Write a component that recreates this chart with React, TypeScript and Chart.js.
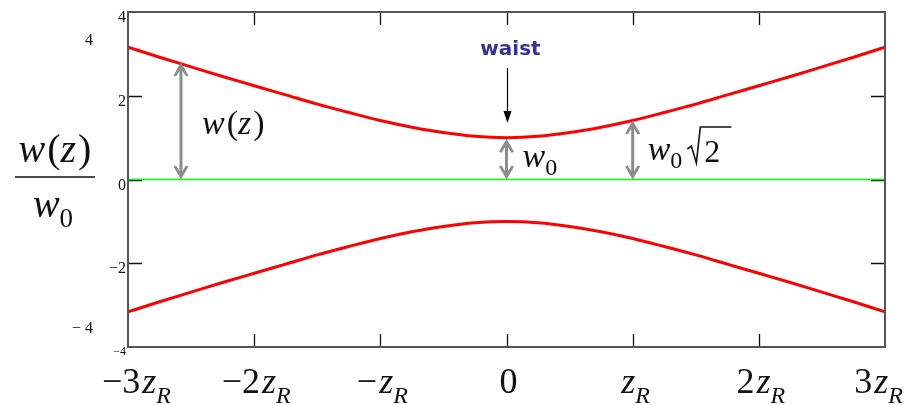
import React, { useEffect, useRef } from "react";
import { Chart, registerables } from "chart.js";

Chart.register(...registerables);

// ---- data ----
const zPositions = [-3, -2.75, -2.5, -2.25, -2, -1.75, -1.5, -1.25, -1, -0.75, -0.5, -0.25, 0, 0.25, 0.5, 0.75, 1, 1.25, 1.5, 1.75, 2, 2.25, 2.5, 2.75, 3];
const upperWidth = [3.16, 2.92, 2.69, 2.46, 2.24, 2.02, 1.8, 1.6, 1.41, 1.25, 1.12, 1.03, 1.0, 1.03, 1.12, 1.25, 1.41, 1.6, 1.8, 2.02, 2.24, 2.46, 2.69, 2.92, 3.16];
const lowerWidth = [-3.16, -2.92, -2.69, -2.46, -2.24, -2.02, -1.8, -1.6, -1.41, -1.25, -1.12, -1.03, -1.0, -1.03, -1.12, -1.25, -1.41, -1.6, -1.8, -2.02, -2.24, -2.46, -2.69, -2.92, -3.16];
const axisLineZ = [-3, 3];
const axisLineY = [0, 0];

const xTickValues = [-3, -2, -1, 0, 1, 2, 3];
const xTickPrefix = ["\u22123", "\u22122", "\u2212", "0", "", "2", "3"];
const xTickHasZR = [true, true, true, false, true, true, true];
const xInnerTicks = [-2, -1, 0, 1, 2];

const yTickValues = [4, 2, 0, -2, -4];
const yTickLabels = ["4", "2", "0", "\u22122", "\u22124"];
const yInnerTicks = [2, 0, -2];

// annotation values
const wzArrowZ = -2.58;
const wzArrowTop = 2.77;
const waistZ = 0;
const waistTop = 1.0;
const rayleighZ = 1;
const rayleighTop = 1.41;

const SERIF = '"Liberation Serif", "Times New Roman", serif';
const SANS = '"DejaVu Sans", "Liberation Sans", sans-serif';

type Piece = { t: string; font: string; dy?: number; dx?: number };

function measureRich(ctx: CanvasRenderingContext2D, pieces: Piece[]) {
  return pieces.map((p) => {
    ctx.font = p.font;
    return ctx.measureText(p.t).width + (p.dx || 0);
  });
}

function drawRich(
  ctx: CanvasRenderingContext2D,
  pieces: Piece[],
  x: number,
  y: number,
  align: "left" | "center" | "right",
  minX = -Infinity,
  maxX = Infinity
) {
  const widths = measureRich(ctx, pieces);
  const total = widths.reduce((a, b) => a + b, 0);
  let cx = align === "center" ? x - total / 2 : align === "right" ? x - total : x;
  if (cx < minX) cx = minX;
  if (cx + total > maxX) cx = maxX - total;
  ctx.textAlign = "left";
  ctx.textBaseline = "alphabetic";
  pieces.forEach((p, i) => {
    ctx.font = p.font;
    ctx.fillText(p.t, cx + (p.dx || 0), y + (p.dy || 0));
    cx += widths[i];
  });
  return total;
}

function doubleArrow(ctx: CanvasRenderingContext2D, x: number, yTop: number, yBot: number) {
  ctx.save();
  ctx.strokeStyle = "#8c8c8c";
  ctx.fillStyle = "#8c8c8c";
  ctx.lineWidth = 3;
  ctx.beginPath();
  ctx.moveTo(x, yTop + 6);
  ctx.lineTo(x, yBot - 6);
  ctx.stroke();
  const head = (tipY: number, dir: number) => {
    ctx.beginPath();
    ctx.moveTo(x, tipY);
    ctx.lineTo(x - 7.5, tipY + dir * 13);
    ctx.lineTo(x - 5, tipY + dir * 14);
    ctx.lineTo(x, tipY + dir * 6);
    ctx.lineTo(x + 5, tipY + dir * 14);
    ctx.lineTo(x + 7.5, tipY + dir * 13);
    ctx.closePath();
    ctx.fill();
  };
  head(yTop, 1);
  head(yBot, -1);
  ctx.restore();
}

const framePlugin = {
  id: "framePlugin",
  beforeDatasetsDraw(chart: any) {
    const { ctx, chartArea: a, scales } = chart;
    const xs = scales.x;
    const ys = scales.y;
    ctx.save();
    ctx.strokeStyle = "#111";
    ctx.lineWidth = 1.3;
    ctx.beginPath();
    xInnerTicks.forEach((v) => {
      const px = Math.round(xs.getPixelForValue(v)) + 0.5;
      ctx.moveTo(px, a.top);
      ctx.lineTo(px, a.top + 13);
      ctx.moveTo(px, a.bottom);
      ctx.lineTo(px, a.bottom - 13);
    });
    yInnerTicks.forEach((v) => {
      const py = Math.round(ys.getPixelForValue(v)) + 0.5;
      ctx.moveTo(a.left, py);
      ctx.lineTo(a.left + 14, py);
      ctx.moveTo(a.right, py);
      ctx.lineTo(a.right - 14, py);
    });
    ctx.stroke();
    ctx.restore();
  },
  afterDatasetsDraw(chart: any) {
    const { ctx, chartArea: a, scales } = chart;
    const xs = scales.x;
    const ys = scales.y;
    ctx.save();
    // frame
    ctx.strokeStyle = "#555";
    ctx.lineWidth = 2;
    ctx.strokeRect(a.left, a.top, a.right - a.left, a.bottom - a.top);

    ctx.fillStyle = "#111";
    // y tick labels
    yTickValues.forEach((v, i) => {
      const py = ys.getPixelForValue(v);
      const small = i === yTickValues.length - 1;
      ctx.font = (small ? "12px " : "16px ") + SERIF;
      ctx.textAlign = "right";
      ctx.textBaseline = "alphabetic";
      ctx.fillText(yTickLabels[i], a.left - 2, py + (small ? 8 : 10));
    });
    // axis limit labels
    ctx.font = "16px " + SERIF;
    ctx.textAlign = "right";
    ctx.fillText("4", 93, 45);
    ctx.fillText("\u2212 4", 93, 333);

    // x tick labels
    xTickValues.forEach((v, i) => {
      const px = xs.getPixelForValue(v);
      const pieces: Piece[] = [];
      if (xTickPrefix[i]) pieces.push({ t: xTickPrefix[i], font: "36px " + SERIF });
      if (xTickHasZR[i]) {
        pieces.push({ t: "z", font: "italic 36px " + SERIF, dx: 2 });
        pieces.push({ t: "R", font: "italic 24px " + SERIF, dy: 10 });
      }
      drawRich(ctx, pieces, px + 2, 393, "center", 102, 903);
    });

    // y axis title: w(z) / w0
    drawRich(
      ctx,
      [
        { t: "w", font: "italic 40px " + SERIF },
        { t: "(", font: "40px " + SERIF, dx: 2 },
        { t: "z", font: "italic 40px " + SERIF },
        { t: ")", font: "40px " + SERIF, dx: 2 },
      ],
      55,
      162,
      "center"
    );
    ctx.strokeStyle = "#111";
    ctx.lineWidth = 1.5;
    ctx.beginPath();
    ctx.moveTo(15, 177);
    ctx.lineTo(95, 177);
    ctx.stroke();
    drawRich(
      ctx,
      [
        { t: "w", font: "italic 40px " + SERIF },
        { t: "0", font: "27px " + SERIF, dy: 10 },
      ],
      53,
      217,
      "center"
    );

    // annotations
    const y0 = ys.getPixelForValue(0);
    const ax1 = xs.getPixelForValue(wzArrowZ);
    doubleArrow(ctx, ax1, ys.getPixelForValue(wzArrowTop) - 1, y0);
    const ax2 = xs.getPixelForValue(waistZ);
    doubleArrow(ctx, ax2, ys.getPixelForValue(waistTop) + 1, y0);
    const ax3 = xs.getPixelForValue(rayleighZ);
    doubleArrow(ctx, ax3, ys.getPixelForValue(rayleighTop), y0);

    ctx.fillStyle = "#111";
    drawRich(
      ctx,
      [
        { t: "w", font: "italic 34px " + SERIF },
        { t: "(", font: "34px " + SERIF, dx: 2 },
        { t: "z", font: "italic 34px " + SERIF },
        { t: ")", font: "34px " + SERIF, dx: 2 },
      ],
      ax1 + 21,
      134,
      "left"
    );
    drawRich(
      ctx,
      [
        { t: "w", font: "italic 34px " + SERIF },
        { t: "0", font: "24px " + SERIF, dy: 8 },
      ],
      ax2 + 16,
      167,
      "left"
    );
    const wEnd = drawRich(
      ctx,
      [
        { t: "w", font: "italic 34px " + SERIF },
        { t: "0", font: "24px " + SERIF, dy: 8 },
      ],
      ax3 + 15,
      160,
      "left"
    );
    const rx = ax3 + 15 + wEnd + 5;
    ctx.strokeStyle = "#111";
    ctx.lineWidth = 1.6;
    ctx.beginPath();
    ctx.moveTo(rx, 149);
    ctx.lineTo(rx + 4, 146);
    ctx.lineTo(rx + 9, 163);
    ctx.lineTo(rx + 13, 127);
    ctx.lineTo(rx + 44, 127);
    ctx.stroke();
    ctx.font = "32px " + SERIF;
    ctx.textAlign = "left";
    ctx.fillText("2", rx + 17, 162);

    // waist label and arrow
    ctx.fillStyle = "#333399";
    ctx.font = "bold 20px " + SANS;
    ctx.textAlign = "center";
    ctx.fillText("waist", ax2 + 4, 55);
    ctx.strokeStyle = "#000";
    ctx.fillStyle = "#000";
    ctx.lineWidth = 1.2;
    ctx.beginPath();
    ctx.moveTo(ax2 + 1, 68);
    ctx.lineTo(ax2 + 1, 114);
    ctx.stroke();
    ctx.beginPath();
    ctx.moveTo(ax2 + 1, 123);
    ctx.lineTo(ax2 - 3, 111);
    ctx.lineTo(ax2 + 5, 111);
    ctx.closePath();
    ctx.fill();
    ctx.restore();
  },
};

export default function App() {
  const ref = useRef<HTMLCanvasElement>(null);
  useEffect(() => {
    document.body.style.margin = "0";
    const toPts = (xs: number[], ys: number[]) => xs.map((x, i) => ({ x, y: ys[i] }));
    const chart = new Chart(ref.current as HTMLCanvasElement, {
      type: "line",
      data: {
        datasets: [
          {
            data: toPts(axisLineZ, axisLineY),
            borderColor: "#00ff00",
            borderWidth: 1.5,
            pointRadius: 0,
          },
          {
            data: toPts(zPositions, upperWidth),
            borderColor: "#ff0000",
            borderWidth: 3,
            pointRadius: 0,
            cubicInterpolationMode: "monotone",
          },
          {
            data: toPts(zPositions, lowerWidth),
            borderColor: "#ff0000",
            borderWidth: 3,
            pointRadius: 0,
            cubicInterpolationMode: "monotone",
          },
        ],
      },
      options: {
        animation: false,
        responsive: false,
        events: [],
        layout: { padding: { left: 128, right: 27, top: 12, bottom: 58 } },
        plugins: { legend: { display: false }, tooltip: { enabled: false } },
        scales: {
          x: { type: "linear", min: -3, max: 3, display: false },
          y: { type: "linear", min: -4, max: 4, display: false },
        },
      },
      plugins: [framePlugin],
    } as any);
    return () => chart.destroy();
  }, []);
  return (
    <div style={{ position: "absolute", left: 0, top: 0, width: 912, height: 405, background: "#fff" }}>
      <canvas ref={ref} width={912} height={405} />
    </div>
  );
}
